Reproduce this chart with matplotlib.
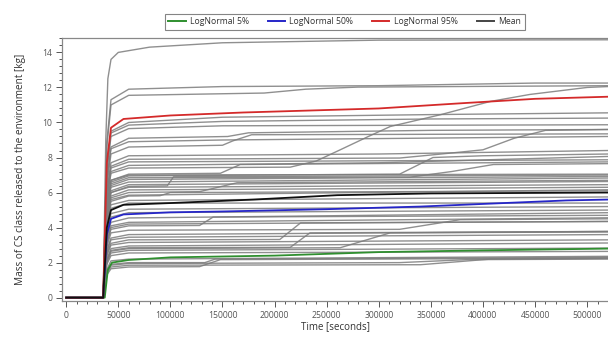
import matplotlib
matplotlib.use("Agg")
import matplotlib.pyplot as plt
from matplotlib.ticker import MultipleLocator, FixedLocator
from matplotlib.lines import Line2D

plt.rcParams['font.family'] = ['Open Sans', 'DejaVu Sans']

# times in kiloseconds, values in kg  (t, v) keypoints
LOGNORMAL_5 = [(0, 0), (37, 0), (40, 1.6), (44, 2.0), (60, 2.15), (100, 2.3), (200, 2.4),
               (300, 2.6), (400, 2.7), (520, 2.8)]
LOGNORMAL_50 = [(0, 0), (35.5, 0), (39, 3.6), (43, 4.5), (55, 4.75), (100, 4.87), (150, 4.92),
                (250, 5.05), (340, 5.2), (420, 5.4), (480, 5.55), (520, 5.6)]
LOGNORMAL_95 = [(0, 0), (35.5, 0), (39, 7.7), (43, 9.7), (55, 10.2), (100, 10.4), (170, 10.57),
                (300, 10.8), (380, 11.1), (450, 11.35), (520, 11.47)]
MEAN = [(0, 0), (35.5, 0), (39, 4.0), (43, 5.0), (55, 5.3), (100, 5.4), (180, 5.6),
        (260, 5.85), (350, 5.95), (520, 6.0)]

SAMPLES = [
    [(0, 0), (35.5, 0), (38, 9.0), (40, 12.5), (43, 13.6), (50, 14.0), (80, 14.3), (150, 14.55), (300, 14.7), (520, 14.72)],
    [(0, 0), (35.5, 0), (39, 8.9), (43, 11.3), (60, 11.9), (150, 12.05), (300, 12.1), (450, 12.25), (520, 12.25)],
    [(0, 0), (35.5, 0), (39, 8.6), (43, 11.0), (60, 11.55), (190, 11.68), (230, 11.9), (280, 12.02), (520, 12.1)],
    [(0, 0), (35.5, 0), (39, 7.5), (43, 9.5), (60, 10.0), (150, 10.3), (350, 10.45), (520, 10.55)],
    [(0, 0), (35.5, 0), (39, 7.4), (43, 9.4), (60, 9.85), (150, 10.06), (350, 10.2), (520, 10.25)],
    [(0, 0), (35.5, 0), (39, 7.2), (43, 9.2), (60, 9.65), (150, 9.81), (520, 9.87)],
    [(0, 0), (35.5, 0), (39, 6.8), (43, 8.6), (60, 9.1), (155, 9.2), (175, 9.41), (350, 9.55), (520, 9.6)],
    [(0, 0), (35.5, 0), (39, 6.7), (43, 8.5), (60, 8.9), (150, 9.0), (520, 9.2)],
    [(0, 0), (35.5, 0), (39, 6.4), (43, 8.2), (60, 8.6), (150, 8.7), (160, 8.95), (178, 9.3), (520, 9.35)],
    [(0, 0), (35.5, 0), (39, 6.1), (43, 7.7), (60, 8.1), (300, 8.2), (520, 8.4)],
    [(0, 0), (35.5, 0), (39, 5.9), (43, 7.5), (60, 7.9), (320, 7.97), (360, 8.2), (400, 8.44), (430, 9.1), (460, 9.55), (520, 9.6)],
    [(0, 0), (35.5, 0), (39, 5.6), (43, 7.1), (60, 7.4), (215, 7.45), (240, 7.8), (263, 8.44), (290, 9.2), (311, 9.77), (359, 10.44), (407, 11.2), (445, 11.6), (500, 12.0), (520, 12.05)],
    [(0, 0), (35.5, 0), (39, 5.7), (43, 7.2), (60, 7.55), (300, 7.7), (520, 8.06)],
    [(0, 0), (35.5, 0), (39, 5.8), (43, 7.4), (60, 7.75), (520, 7.87)],
    [(0, 0), (35.5, 0), (39, 5.3), (43, 6.7), (60, 7.0), (520, 7.05)],
    [(0, 0), (35.5, 0), (39, 5.1), (43, 6.5), (60, 6.85), (330, 6.88), (370, 7.2), (410, 7.6), (520, 7.65)],
    [(0, 0), (35.5, 0), (39, 5.1), (43, 6.4), (60, 6.75), (520, 6.92)],
    [(0, 0), (35.5, 0), (39, 5.0), (43, 6.3), (60, 6.6), (520, 6.83)],
    [(0, 0), (35.5, 0), (39, 4.8), (43, 6.0), (60, 6.35), (97, 6.38), (103, 6.9), (520, 7.0)],
    [(0, 0), (35.5, 0), (39, 4.8), (43, 6.1), (60, 6.45), (520, 6.63)],
    [(0, 0), (35.5, 0), (39, 4.7), (43, 6.0), (60, 6.3), (520, 6.45)],
    [(0, 0), (35.5, 0), (39, 4.6), (43, 5.8), (60, 6.15), (520, 6.3)],
    [(0, 0), (35.5, 0), (39, 4.5), (43, 5.7), (60, 6.0), (128, 6.05), (164, 6.56), (520, 6.7)],
    [(0, 0), (35.5, 0), (39, 5.3), (43, 6.7), (60, 7.05), (148, 7.1), (167, 7.6), (520, 7.75)],
    [(0, 0), (35.5, 0), (39, 5.2), (43, 6.6), (60, 6.95), (320, 7.05), (352, 8.0), (400, 8.1), (520, 8.2)],
    [(0, 0), (35.5, 0), (39, 4.4), (43, 5.6), (60, 5.85), (520, 6.16)],
    [(0, 0), (35.5, 0), (39, 4.3), (43, 5.5), (60, 5.8), (90, 5.82), (100, 6.0), (520, 6.1)],
    [(0, 0), (35.5, 0), (39, 4.2), (43, 5.3), (60, 5.55), (520, 5.75)],
    [(0, 0), (35.5, 0), (39, 4.0), (43, 5.1), (60, 5.4), (520, 5.4)],
    [(0, 0), (35.5, 0), (39, 3.8), (43, 4.8), (60, 5.05), (520, 5.2)],
    [(0, 0), (35.5, 0), (39, 3.6), (43, 4.6), (60, 4.85), (520, 5.0)],
    [(0, 0), (35.5, 0), (39, 3.4), (43, 4.3), (60, 4.55), (520, 4.85)],
    [(0, 0), (35.5, 0), (39, 3.1), (43, 3.9), (60, 4.1), (128, 4.12), (141, 4.6), (520, 4.7)],
    [(0, 0), (35.5, 0), (39, 3.2), (43, 4.1), (60, 4.3), (520, 4.56)],
    [(0, 0), (35.5, 0), (39, 3.1), (43, 4.0), (60, 4.2), (520, 4.35)],
    [(0, 0), (35.5, 0), (39, 2.9), (43, 3.7), (60, 3.85), (320, 3.9), (378, 4.45), (520, 4.5)],
    [(0, 0), (35.5, 0), (39, 2.5), (43, 3.1), (60, 3.3), (205, 3.32), (225, 4.27), (520, 4.35)],
    [(0, 0), (35.5, 0), (39, 2.7), (43, 3.4), (60, 3.6), (520, 3.78)],
    [(0, 0), (35.5, 0), (39, 2.6), (43, 3.3), (60, 3.45), (520, 3.6)],
    [(0, 0), (35.5, 0), (39, 2.1), (43, 2.7), (60, 2.85), (215, 2.87), (234, 3.7), (520, 3.78)],
    [(0, 0), (35.5, 0), (39, 2.1), (43, 2.65), (60, 2.8), (263, 2.85), (311, 3.7), (520, 3.75)],
    [(0, 0), (35.5, 0), (39, 2.4), (43, 3.0), (60, 3.15), (520, 3.3)],
    [(0, 0), (35.5, 0), (39, 2.2), (43, 2.8), (60, 2.95), (520, 3.12)],
    [(0, 0), (35.5, 0), (39, 2.0), (43, 2.55), (60, 2.7), (520, 2.83)],
    [(0, 0), (35.5, 0), (39, 1.9), (43, 2.4), (60, 2.55), (520, 2.64)],
    [(0, 0), (35.5, 0), (39, 1.6), (43, 2.1), (60, 2.2), (520, 2.36)],
    [(0, 0), (35.5, 0), (39, 1.5), (43, 1.9), (60, 2.0), (133, 2.0), (143, 2.2), (520, 2.3)],
    [(0, 0), (35.5, 0), (39, 1.3), (43, 1.65), (60, 1.75), (128, 1.77), (148, 2.17), (520, 2.25)],
    [(0, 0), (35.5, 0), (39, 1.4), (43, 1.75), (60, 1.85), (340, 1.88), (407, 2.2), (520, 2.25)],
    [(0, 0), (35.5, 0), (39, 1.45), (43, 1.85), (60, 1.95), (320, 2.0), (385, 2.17), (520, 2.2)],
]

LEGEND_LABELS = ['LogNormal 5%', 'LogNormal 50%', 'LogNormal 95%', 'Mean']
X_TICKS = [0, 50000, 100000, 150000, 200000, 250000, 300000, 350000, 400000, 450000, 500000]
Y_TICKS = [0, 2, 4, 6, 8, 10, 12, 14]


def xy(points):
    return [p[0] * 1000 for p in points], [p[1] for p in points]


fig = plt.figure(figsize=(6.08, 3.38), dpi=100)
ax = fig.add_axes([0.102, 0.109, 0.898, 0.78])

for s in SAMPLES:
    x, y = xy(s)
    ax.plot(x, y, color='#7c7c7c', lw=1.0, alpha=0.85, solid_joinstyle='round')

series = [(LOGNORMAL_5, '#2f8f2f'), (LOGNORMAL_50, '#2626c8'),
          (LOGNORMAL_95, '#d42a2a'), (MEAN, '#101010')]
for pts, c in series:
    x, y = xy(pts)
    ax.plot(x, y, color=c, lw=1.3, solid_joinstyle='round')

ax.set_xlim(-4000, 520000)
ax.set_ylim(-0.2, 14.85)
ax.xaxis.set_major_locator(FixedLocator(X_TICKS))
ax.set_xticklabels([str(v) for v in X_TICKS])
ax.xaxis.set_minor_locator(MultipleLocator(10000))
ax.yaxis.set_major_locator(FixedLocator(Y_TICKS))
ax.yaxis.set_minor_locator(MultipleLocator(0.4))

ax.tick_params(which='both', direction='out', colors='#555555', labelsize=6.2, width=0.7, pad=3)
ax.tick_params(which='major', length=4)
ax.tick_params(which='minor', length=2.5)
for sp in ['left', 'bottom', 'top']:
    ax.spines[sp].set_color('#888888')
    ax.spines[sp].set_linewidth(0.9)
ax.spines['right'].set_visible(False)

ax.set_xlabel('Time [seconds]', fontsize=7, color='#333333', labelpad=1)
ax.set_ylabel('Mass of CS class released to the environment [kg]', fontsize=7.2,
              color='#333333', labelpad=12)

handles = [Line2D([], [], color=c, lw=1.4) for _, c in series]
handles[3].set_color('#444444')
leg = fig.legend(handles, LEGEND_LABELS, loc='center', bbox_to_anchor=(0.567, 0.935),
                 ncol=4, fontsize=6.2, frameon=True, fancybox=False, handlelength=2.0,
                 columnspacing=2.2, handletextpad=0.5, borderpad=0.45)
leg.get_frame().set_edgecolor('#666666')
leg.get_frame().set_linewidth(0.8)
for t in leg.get_texts():
    t.set_color('#333333')

fig.savefig('out.png', dpi=100)
